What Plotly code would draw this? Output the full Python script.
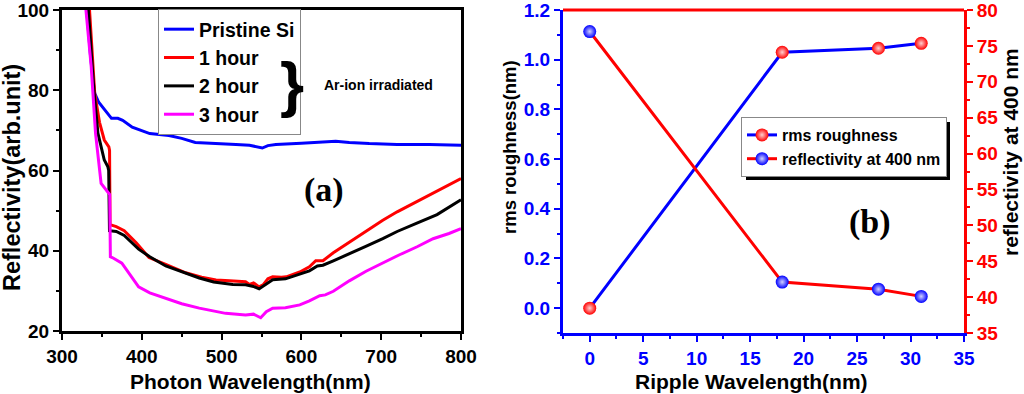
import plotly.graph_objects as go

# ---------------- Panel (a) data ----------------
wl_pristine = [328, 331, 336, 341, 346, 351, 356, 362, 370, 376, 388, 400, 410, 434, 450, 467, 490,
               518, 535, 545, 551, 558, 568, 600, 620, 643, 660, 685, 720, 760, 800]
r_pristine = [110, 100, 88, 79.2, 77, 75.7, 74.5, 73, 73, 72.5, 70.8, 70, 69.2, 68.7, 68, 67, 66.7,
              66.5, 66.3, 65.8, 65.6, 66.2, 66.5, 66.8, 67, 67.3, 67, 66.7, 66.5, 66.5, 66.3]

wl_1h = [331, 334.5, 341, 347, 353, 358.7, 359.6, 360.2, 368, 378, 393, 409, 430, 455, 475,
         493, 510, 522, 530, 535, 540, 547, 552, 558, 564, 575, 581, 598, 610, 618, 627, 640, 660,
         680, 702, 720, 744, 770, 800]
r_1h = [115, 100, 79.2, 72, 67.6, 65.9, 65, 46.5, 46, 45, 42, 38.3, 36.6, 34.5, 33.4,
        32.7, 32.5, 32.4, 32.3, 31.6, 32, 31, 31.5, 33, 33.5, 33.4, 33.5, 34.7, 36, 37.5, 37.5, 39.5, 42.1,
        44.8, 47.6, 49.7, 52.2, 55, 58]

wl_2h = [330, 333, 340, 345, 353, 357.5, 358.5, 359.5, 368, 378, 396, 410, 430, 455, 472, 490, 514,
         530, 540, 547, 555, 564, 580, 598, 610, 620, 627, 640, 660, 680, 702, 720, 744, 770, 800]
r_2h = [115, 100, 80, 69.3, 62.6, 60.9, 60, 45, 44.8, 43.8, 40.4, 38.5, 36.2, 34.3, 33.2, 32.2, 31.6,
        31.5, 31.1, 30.5, 31.5, 32.8, 33, 34.1, 35, 36.2, 36.4, 37.5, 39.2, 41, 43, 44.8, 46.8, 49, 52.7]

wl_3h = [327, 330, 336.6, 342, 349, 356, 359.8, 360.6, 363, 375, 385, 396, 410, 430, 450, 472, 490, 505,
         530, 540, 549, 556, 564, 580, 598, 610, 623, 630, 640, 660, 681, 700, 723, 745, 765, 785, 800]
r_3h = [115, 100, 85.9, 69.3, 56.8, 55.1, 54, 38.5, 38.3, 36.9, 34, 31, 29.5, 28.2, 26.8, 25.7, 25, 24.4,
        24, 24.2, 23.3, 24.8, 25.7, 25.8, 26.5, 27.5, 28.8, 29, 29.9, 32.5, 34.9, 36.8, 39, 41, 43, 44.3, 45.5]

# ---------------- Panel (b) data ----------------
ripple_wl = [0, 18, 27, 31]
rms_roughness = [0.0, 1.03, 1.046, 1.066]
refl_400 = [77.0, 42.1, 41.1, 40.1]

FONT = "Liberation Sans, Arial, sans-serif"
BLUE = "#0000FF"
RED = "#FF0000"
MAG = "#FF00FF"

fig = go.Figure()

for x, y, name, col in [(wl_pristine, r_pristine, "Pristine Si", BLUE),
                        (wl_1h, r_1h, "1 hour", RED),
                        (wl_2h, r_2h, "2 hour", "#000000"),
                        (wl_3h, r_3h, "3 hour", MAG)]:
    fig.add_trace(go.Scatter(x=x, y=y, name=name, mode="lines",
                             line=dict(color=col, width=3),
                             xaxis="x", yaxis="y", legend="legend"))

fig.add_trace(go.Scatter(x=ripple_wl, y=rms_roughness, name="rms roughness",
                         mode="lines+markers", line=dict(color=BLUE, width=3),
                         marker=dict(color=RED, size=13, gradient=dict(type="radial", color="#FFD0D0")),
                         xaxis="x2", yaxis="y2", legend="legend2"))
fig.add_trace(go.Scatter(x=ripple_wl, y=refl_400, name="reflectivity at 400 nm",
                         mode="lines+markers", line=dict(color=RED, width=3),
                         marker=dict(color=BLUE, size=13, gradient=dict(type="radial", color="#D0D0FF")),
                         xaxis="x2", yaxis="y3", legend="legend2"))

W, H = 1024, 394
def px(x):
    return x / W
def py(y):
    return 1 - y / H

tickfont = dict(family=FONT, size=19, color="black", weight="bold")

common = dict(showgrid=False, zeroline=False, ticks="outside", ticklen=6, tickwidth=2,
              linewidth=3, showline=True, automargin=False, ticklabeloverflow="allow")

fig.update_layout(
    width=W, height=H, margin=dict(l=0, r=0, t=0, b=0, autoexpand=False),
    paper_bgcolor="white", plot_bgcolor="white",
    showlegend=True,
    xaxis=dict(domain=[px(62), px(461)], range=[300, 800], tickvals=[300, 400, 500, 600, 700, 800],
               linecolor="black", mirror=True, tickcolor="black", tickfont=tickfont,
               minor=dict(ticks="outside", ticklen=3, tickwidth=2, dtick=50, tickcolor="black"),
               anchor="y", **common),
    yaxis=dict(domain=[py(331), py(10)], range=[20, 100], tickvals=[20, 40, 60, 80, 100],
               linecolor="black", mirror=True, tickcolor="black", tickfont=tickfont,
               minor=dict(ticks="outside", ticklen=3, tickwidth=2, dtick=10, tickcolor="black"),
               anchor="x", **common),
    xaxis2=dict(domain=[px(563), px(964)], range=[-2.5, 35], tickvals=[0, 5, 10, 15, 20, 25, 30, 35],
                linecolor=BLUE, tickcolor=BLUE, tickfont=dict(tickfont, color=BLUE),
                minor=dict(ticks="outside", ticklen=3, tickwidth=2, dtick=2.5, tick0=0, tickcolor=BLUE),
                anchor="y2", **common),
    yaxis2=dict(domain=[py(333), py(10)], range=[-0.1, 1.2],
                tickvals=[0.0, 0.2, 0.4, 0.6, 0.8, 1.0, 1.2], tickformat=".1f",
                linecolor=BLUE, tickcolor=BLUE, tickfont=dict(tickfont, color=BLUE),
                minor=dict(ticks="outside", ticklen=3, tickwidth=2, dtick=0.1, tick0=0, tickcolor=BLUE),
                anchor="x2", **common),
    yaxis3=dict(domain=[py(333), py(10)], range=[35, 80], tickvals=list(range(35, 81, 5)),
                overlaying="y2", side="right", anchor="x2",
                linecolor=RED, tickcolor=RED, tickfont=dict(tickfont, color=RED),
                minor=dict(ticks="outside", ticklen=3, tickwidth=2, dtick=2.5, tick0=35, tickcolor=RED),
                **common),
    legend=dict(x=px(158), y=py(9), xanchor="left", yanchor="top",
                bgcolor="white", bordercolor="#888888", borderwidth=1,
                font=dict(family=FONT, size=19.5, color="black", weight="bold"),
                tracegroupgap=0, itemwidth=30),
    legend2=dict(x=px(741), y=py(117), xanchor="left", yanchor="top",
                 bgcolor="white", bordercolor="#888888", borderwidth=1,
                 font=dict(family=FONT, size=16, color="black", weight="bold"),
                 tracegroupgap=0, itemwidth=30),
)

shapes = [
    # shadow behind legend (b)
    dict(type="rect", xref="paper", yref="paper", x0=px(746), x1=px(950), y0=py(180), y1=py(122),
         fillcolor="black", line=dict(width=0), layer="above"),
    # red top border of panel (b)
    dict(type="line", xref="paper", yref="paper", x0=px(563), x1=px(964), y0=py(10), y1=py(10),
         line=dict(color=RED, width=3)),
]
fig.update_layout(shapes=shapes)

def tf(size):
    return dict(family=FONT, size=size, color="black", weight="bold")

ann = [
    dict(text="Reflectivity(arb.unit)", x=px(12), y=py(178), textangle=-90, font=tf(23.5)),
    dict(text="Photon Wavelength(nm)", x=px(250), y=py(381), font=tf(21)),
    dict(text="rms roughness(nm)", x=px(510), y=py(147), textangle=-90, font=tf(18.5)),
    dict(text="reflectivity at 400 nm", x=px(1010), y=py(152), textangle=-90, font=tf(21)),
    dict(text="Ripple Wavelength(nm)", x=px(751), y=py(381), font=tf(21)),
    dict(text="(a)", x=px(324), y=py(190),
         font=dict(family="Liberation Serif, Times New Roman, serif", size=34, color="black", weight="bold")),
    dict(text="(b)", x=px(870), y=py(222),
         font=dict(family="Liberation Serif, Times New Roman, serif", size=34, color="black", weight="bold")),
    dict(text="}", x=px(292), y=py(84),
         font=dict(family=FONT, size=62, color="black", weight="bold")),
    dict(text="Ar-ion irradiated", x=px(322), y=py(85), xanchor="left", font=tf(14)),
]
for a in ann:
    a.setdefault("xanchor", "center")
    a.update(xref="paper", yref="paper", showarrow=False, yanchor="middle")
fig.update_layout(annotations=ann)

fig.write_html("out.html", config={"displayModeBar": False})

# remove the default page margin so the figure fills the 1024x394 window exactly
with open("out.html", "r", encoding="utf-8") as f:
    html = f.read()
html = html.replace("<head>", "<head><style>html,body{margin:0;padding:0;overflow:hidden;}</style>", 1)
with open("out.html", "w", encoding="utf-8") as f:
    f.write(html)
